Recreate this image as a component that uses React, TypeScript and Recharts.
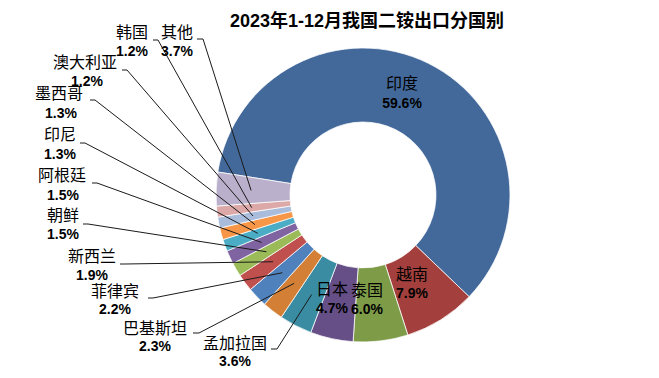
import { PieChart, Pie, Cell } from "recharts";

const countries = [
  "印度", "越南", "泰国", "日本", "孟加拉国", "巴基斯坦", "菲律宾", "新西兰",
  "朝鲜", "阿根廷", "印尼", "墨西哥", "澳大利亚", "韩国", "其他",
];
const shares = [59.6, 7.9, 6.0, 4.7, 3.6, 2.3, 2.2, 1.9, 1.5, 1.5, 1.3, 1.3, 1.2, 1.2, 3.7];
const sliceColors = [
  "#43699b", "#a3403d", "#7e9b48", "#654f86", "#3a8ca2", "#d47f36", "#4f81bd", "#c0504d",
  "#9bbb59", "#8064a2", "#4bacc6", "#f79646", "#a9bcdc", "#dca9a8", "#bab0cc",
];

// label placement (name centre x, name y, percent y, leader start x1..x2 at ly)
const labelLayout: Array<{ x: number; ny: number; py: number; px?: number; lead?: [number, number, number] }> = [
  { x: 402, ny: 82, py: 103 },
  { x: 412, ny: 273, py: 293 },
  { x: 367, ny: 289, py: 309 },
  { x: 332, ny: 288, py: 308 },
  { x: 235, ny: 342, py: 361, lead: [271, 277, 349] },
  { x: 155, ny: 327, py: 346, lead: [193, 199, 333] },
  { x: 115, ny: 290, py: 309, lead: [148, 153, 298] },
  { x: 92, ny: 255, py: 275, lead: [120, 125, 264] },
  { x: 63, ny: 214, py: 234, lead: [83, 88, 224] },
  { x: 62, ny: 174, py: 195, px: 63, lead: [92, 97, 183] },
  { x: 60, ny: 133, py: 154, lead: [80, 85, 143] },
  { x: 59, ny: 92, py: 113, px: 61, lead: [90, 95, 100] },
  { x: 85, ny: 61, py: 81, px: 87, lead: [122, 127, 70] },
  { x: 132, ny: 31, py: 51, lead: [153, 158, 40] },
  { x: 177, ny: 31, py: 51, lead: [197, 203, 39] },
];

const data = countries.map((name, i) => ({ name, value: shares[i] }));

const RAD = Math.PI / 180;

function renderLabel(props: any) {
  const { cx, cy, midAngle, index } = props;
  const lay = labelLayout[index];
  const item = data[index];
  let leader = null;
  if (lay.lead) {
    const r = 112;
    const ex = cx + r * Math.cos(-midAngle * RAD);
    const ey = cy + r * Math.sin(-midAngle * RAD);
    const [x1, x2, ly] = lay.lead;
    leader = (
      <polyline
        points={`${x1},${ly} ${x2},${ly} ${ex},${ey}`}
        fill="none"
        stroke="#1a1a1a"
        strokeWidth={1}
      />
    );
  }
  return (
    <g key={`lbl-${index}`}>
      {leader}
      <text
        x={lay.x}
        y={lay.ny}
        textAnchor="middle"
        dominantBaseline="central"
        fontFamily="'Noto Sans CJK SC', sans-serif"
        fontSize={16}
        fill="#000"
      >
        {item.name}
      </text>
      <text
        x={lay.px ?? lay.x}
        y={lay.py}
        textAnchor="middle"
        dominantBaseline="central"
        fontFamily="'Liberation Sans', Arial, sans-serif"
        fontWeight="bold"
        fontSize={14}
        fill="#000"
      >
        {item.value.toFixed(1)}%
      </text>
    </g>
  );
}

export default function App() {
  return (
    <div style={{ position: "relative", width: 659, height: 378, background: "#fff" }}>
      <style>{`body{margin:0}`}</style>
      <div
        style={{
          position: "absolute",
          left: 0,
          width: 734,
          top: 8,
          textAlign: "center",
          fontFamily: "'Liberation Sans', 'Noto Sans CJK SC', sans-serif",
          fontWeight: "bold",
          fontSize: 18,
          lineHeight: "26px",
          color: "#000",
        }}
      >
        2023年1-12月我国二铵出口分国别
      </div>
      <PieChart width={659} height={378}>
        <Pie
          data={data}
          dataKey="value"
          nameKey="name"
          cx={358}
          cy={190}
          innerRadius={73}
          outerRadius={147}
          startAngle={171}
          endAngle={-189}
          stroke="#ffffff"
          strokeWidth={0.75}
          label={renderLabel}
          labelLine={false}
          isAnimationActive={false}
        >
          {data.map((d, i) => (
            <Cell key={d.name} fill={sliceColors[i]} />
          ))}
        </Pie>
      </PieChart>
    </div>
  );
}
